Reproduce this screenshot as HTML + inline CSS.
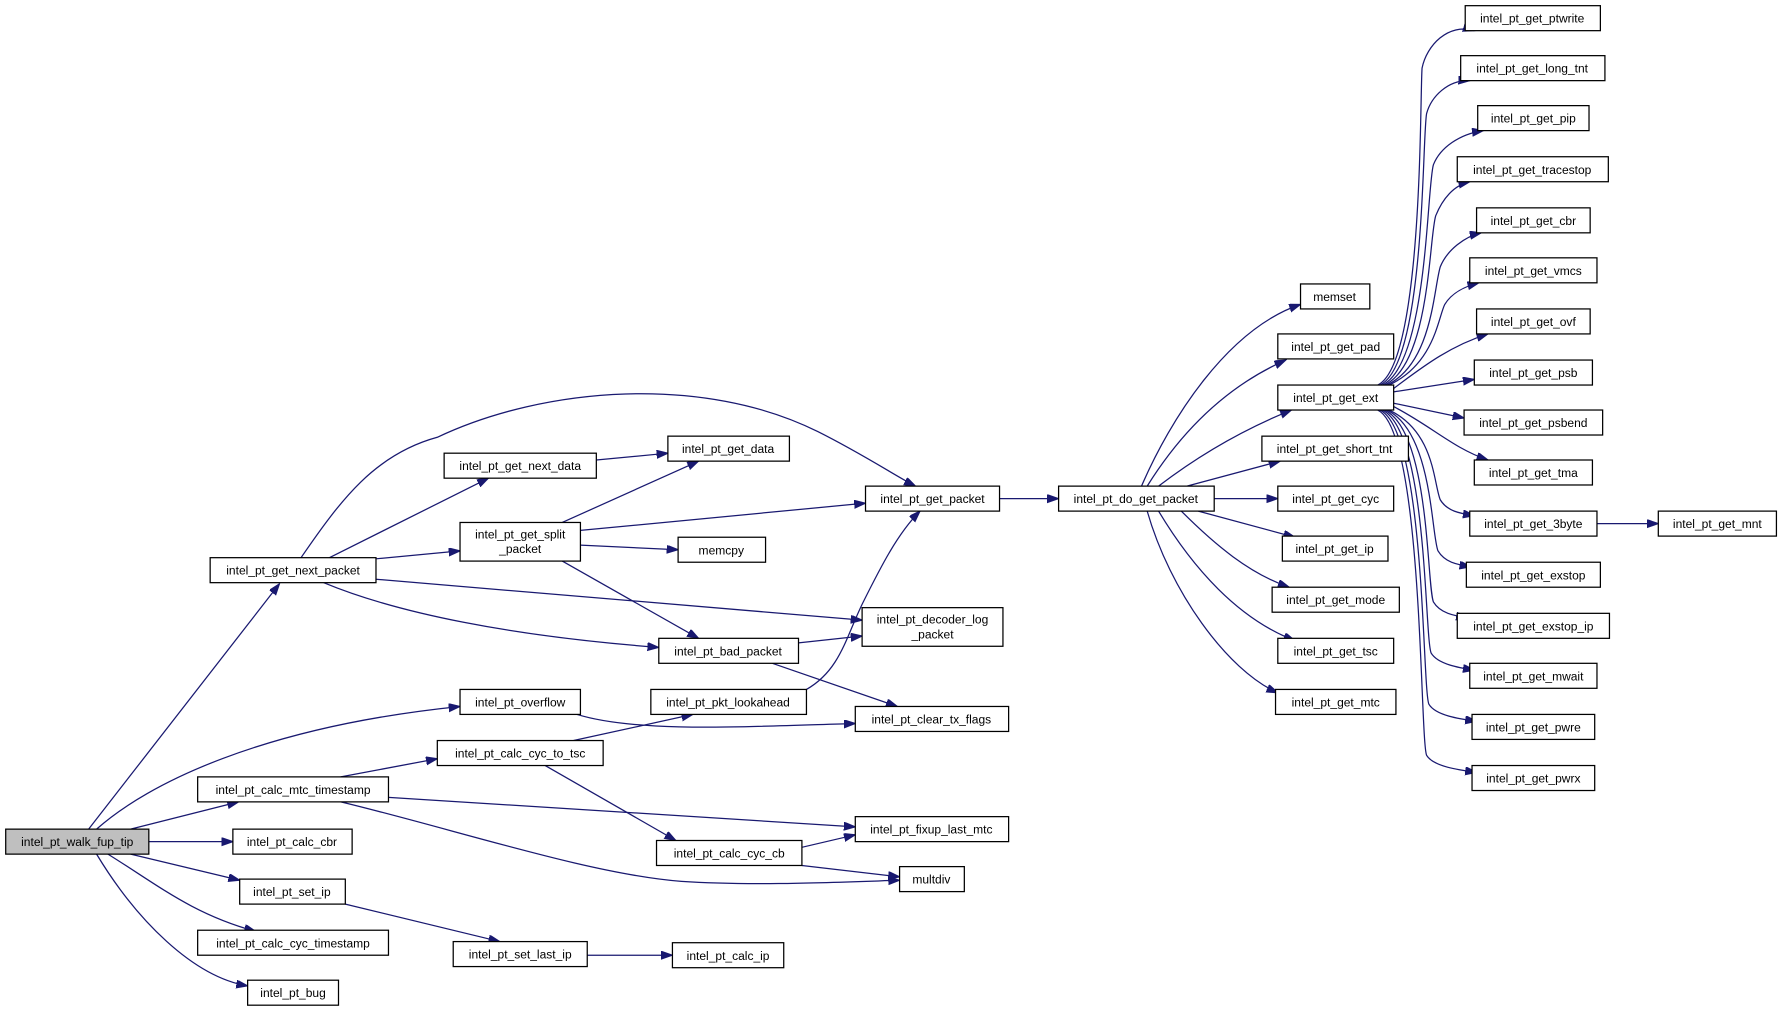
<!DOCTYPE html>
<html><head><meta charset="utf-8"><style>
html,body{margin:0;padding:0;background:#fff;}
svg{display:block;}
text{font-family:"Liberation Sans",sans-serif;font-size:10.6px;fill:#000;text-anchor:middle;}
.b{fill:#fff;stroke:#000;stroke-width:1.1;}
.e{fill:none;stroke:#191970;stroke-width:1.1;marker-end:url(#a);}
</style></head><body>
<svg width="1781" height="1012" viewBox="0 0 1568 891" xmlns="http://www.w3.org/2000/svg">
<defs><marker id="a" markerUnits="userSpaceOnUse" markerWidth="11" markerHeight="8" refX="10" refY="3.5" orient="auto"><path d="M0,0 L10,3.5 L0,7 z" fill="#191970" stroke="#191970"/></marker></defs>
<g>
<path class="e" d="M78,730 L246,514"/>
<path class="e" d="M85,730 C130,690 230,640 405,622"/>
<path class="e" d="M115,730 L210,706"/>
<path class="e" d="M131,741 L205,741"/>
<path class="e" d="M115,752 L211,775"/>
<path class="e" d="M95,752 C140,780 170,805 225,820"/>
<path class="e" d="M85,752 C120,810 170,860 218,868"/>
<path class="e" d="M265,491 C300,440 330,400 385,385 C480,340 620,330 720,380 C760,400 790,420 806,428"/>
<path class="e" d="M290,491 L430,421"/>
<path class="e" d="M331,492 L405,485"/>
<path class="e" d="M331,510 L759,546"/>
<path class="e" d="M285,513 C350,540 450,560 580,570"/>
<path class="e" d="M525,405 L588,399"/>
<path class="e" d="M495,460 L615,406"/>
<path class="e" d="M511,467 L762,443"/>
<path class="e" d="M511,480 L597,484"/>
<path class="e" d="M495,494 L615,562"/>
<path class="e" d="M880,439 L932,439"/>
<path class="e" d="M703,566 L759,560"/>
<path class="e" d="M680,584 L790,622"/>
<path class="e" d="M710,607 C740,590 745,560 760,530 C775,500 790,470 810,450"/>
<path class="e" d="M508,629 C560,645 650,640 753,637"/>
<path class="e" d="M300,684 L385,668"/>
<path class="e" d="M342,702 L753,728"/>
<path class="e" d="M300,706 C400,730 520,770 600,776 C660,780 730,777 792,775"/>
<path class="e" d="M505,652 L610,629"/>
<path class="e" d="M480,674 L595,740"/>
<path class="e" d="M706,746 L753,735"/>
<path class="e" d="M706,762 L792,772"/>
<path class="e" d="M304,796 L440,829"/>
<path class="e" d="M517,841 L592,841"/>
<path class="e" d="M1005,428 C1030,370 1080,290 1145,268"/>
<path class="e" d="M1010,428 C1040,380 1080,340 1132,317"/>
<path class="e" d="M1020,428 C1050,405 1090,380 1137,361"/>
<path class="e" d="M1045,428 L1127,406"/>
<path class="e" d="M1069,439 L1125,439"/>
<path class="e" d="M1055,450 L1140,473"/>
<path class="e" d="M1040,450 C1070,480 1100,505 1135,517"/>
<path class="e" d="M1020,450 C1050,500 1090,545 1140,564"/>
<path class="e" d="M1010,450 C1030,520 1080,590 1125,610"/>
<!-- ext fan-out up -->
<path class="e" d="M1213,339 C1253,320 1250,87 1252,60 C1256,40 1275,20 1298,27"/>
<path class="e" d="M1215,339 C1255,320 1252,120 1256,100 C1260,85 1275,70 1294,71"/>
<path class="e" d="M1217,339 C1257,320 1256,165 1262,145 C1268,130 1285,118 1306,115"/>
<path class="e" d="M1219,339 C1259,320 1258,210 1264,190 C1270,175 1280,163 1294,160"/>
<path class="e" d="M1221,339 C1261,320 1262,255 1268,235 C1274,220 1290,208 1304,205"/>
<path class="e" d="M1223,339 C1263,320 1266,280 1272,268 C1278,258 1290,252 1302,249"/>
<path class="e" d="M1227,342 C1250,325 1275,305 1310,294"/>
<path class="e" d="M1227,345 L1298,334"/>
<path class="e" d="M1227,355 L1289,368"/>
<path class="e" d="M1227,358 C1260,375 1280,395 1310,405"/>
<!-- ext fan-out down -->
<path class="e" d="M1223,361 C1263,380 1262,425 1268,440 C1274,450 1285,452 1298,454"/>
<path class="e" d="M1221,361 C1261,380 1260,470 1266,485 C1272,495 1282,497 1295,499"/>
<path class="e" d="M1219,361 C1259,380 1256,515 1262,530 C1268,540 1280,542 1292,544"/>
<path class="e" d="M1217,361 C1257,380 1254,560 1260,575 C1266,585 1285,588 1298,590"/>
<path class="e" d="M1215,361 C1255,380 1252,605 1258,620 C1264,630 1285,633 1300,635"/>
<path class="e" d="M1213,361 C1253,380 1250,650 1256,665 C1262,675 1285,678 1300,680"/>
<path class="e" d="M1406,461 L1460,461"/>
</g>
<g>
<rect x="5" y="730" width="126" height="22" fill="#bfbfbf" stroke="#000" stroke-width="1.1"/><text x="68" y="745">intel_pt_walk_fup_tip</text>
<rect class="b" x="185" y="491" width="146" height="22"/><text x="258" y="506">intel_pt_get_next_packet</text>
<rect class="b" x="405" y="607" width="106" height="22"/><text x="458" y="622">intel_pt_overflow</text>
<rect class="b" x="174" y="684" width="168" height="22"/><text x="258" y="699">intel_pt_calc_mtc_timestamp</text>
<rect class="b" x="205" y="730" width="105" height="22"/><text x="257" y="745">intel_pt_calc_cbr</text>
<rect class="b" x="211" y="774" width="93" height="22"/><text x="257" y="789">intel_pt_set_ip</text>
<rect class="b" x="174" y="819" width="168" height="22"/><text x="258" y="834">intel_pt_calc_cyc_timestamp</text>
<rect class="b" x="218" y="863" width="80" height="22"/><text x="258" y="878">intel_pt_bug</text>
<rect class="b" x="391" y="399" width="134" height="22"/><text x="458" y="414">intel_pt_get_next_data</text>
<rect class="b" x="405" y="460" width="106" height="34"/><text x="458" y="474">intel_pt_get_split</text><text x="458" y="487">_packet</text>
<rect class="b" x="588" y="384" width="107" height="22"/><text x="641" y="399">intel_pt_get_data</text>
<rect class="b" x="597" y="473" width="77" height="22"/><text x="635" y="488">memcpy</text>
<rect class="b" x="762" y="428" width="118" height="22"/><text x="821" y="443">intel_pt_get_packet</text>
<rect class="b" x="759" y="535" width="124" height="34"/><text x="821" y="549">intel_pt_decoder_log</text><text x="821" y="562">_packet</text>
<rect class="b" x="580" y="562" width="123" height="22"/><text x="641" y="577">intel_pt_bad_packet</text>
<rect class="b" x="573" y="607" width="137" height="22"/><text x="641" y="622">intel_pt_pkt_lookahead</text>
<rect class="b" x="753" y="622" width="135" height="22"/><text x="820" y="637">intel_pt_clear_tx_flags</text>
<rect class="b" x="385" y="652" width="146" height="22"/><text x="458" y="667">intel_pt_calc_cyc_to_tsc</text>
<rect class="b" x="753" y="719" width="135" height="22"/><text x="820" y="734">intel_pt_fixup_last_mtc</text>
<rect class="b" x="578" y="740" width="128" height="22"/><text x="642" y="755">intel_pt_calc_cyc_cb</text>
<rect class="b" x="792" y="763" width="57" height="22"/><text x="820" y="778">multdiv</text>
<rect class="b" x="399" y="829" width="118" height="22"/><text x="458" y="844">intel_pt_set_last_ip</text>
<rect class="b" x="592" y="830" width="98" height="22"/><text x="641" y="845">intel_pt_calc_ip</text>
<rect class="b" x="932" y="428" width="137" height="22"/><text x="1000" y="443">intel_pt_do_get_packet</text>
<rect class="b" x="1145" y="250" width="61" height="22"/><text x="1175" y="265">memset</text>
<rect class="b" x="1125" y="294" width="102" height="22"/><text x="1176" y="309">intel_pt_get_pad</text>
<rect class="b" x="1125" y="339" width="102" height="22"/><text x="1176" y="354">intel_pt_get_ext</text>
<rect class="b" x="1111" y="384" width="129" height="22"/><text x="1175" y="399">intel_pt_get_short_tnt</text>
<rect class="b" x="1125" y="428" width="102" height="22"/><text x="1176" y="443">intel_pt_get_cyc</text>
<rect class="b" x="1129" y="472" width="93" height="22"/><text x="1175" y="487">intel_pt_get_ip</text>
<rect class="b" x="1120" y="517" width="112" height="22"/><text x="1176" y="532">intel_pt_get_mode</text>
<rect class="b" x="1125" y="562" width="102" height="22"/><text x="1176" y="577">intel_pt_get_tsc</text>
<rect class="b" x="1123" y="607" width="106" height="22"/><text x="1176" y="622">intel_pt_get_mtc</text>
<rect class="b" x="1290" y="5" width="119" height="22"/><text x="1349" y="20">intel_pt_get_ptwrite</text>
<rect class="b" x="1286" y="49" width="127" height="22"/><text x="1349" y="64">intel_pt_get_long_tnt</text>
<rect class="b" x="1301" y="93" width="98" height="22"/><text x="1350" y="108">intel_pt_get_pip</text>
<rect class="b" x="1283" y="138" width="133" height="22"/><text x="1349" y="153">intel_pt_get_tracestop</text>
<rect class="b" x="1300" y="183" width="100" height="22"/><text x="1350" y="198">intel_pt_get_cbr</text>
<rect class="b" x="1294" y="227" width="112" height="22"/><text x="1350" y="242">intel_pt_get_vmcs</text>
<rect class="b" x="1300" y="272" width="100" height="22"/><text x="1350" y="287">intel_pt_get_ovf</text>
<rect class="b" x="1298" y="317" width="104" height="22"/><text x="1350" y="332">intel_pt_get_psb</text>
<rect class="b" x="1289" y="361" width="122" height="22"/><text x="1350" y="376">intel_pt_get_psbend</text>
<rect class="b" x="1298" y="405" width="104" height="22"/><text x="1350" y="420">intel_pt_get_tma</text>
<rect class="b" x="1294" y="450" width="112" height="22"/><text x="1350" y="465">intel_pt_get_3byte</text>
<rect class="b" x="1291" y="495" width="118" height="22"/><text x="1350" y="510">intel_pt_get_exstop</text>
<rect class="b" x="1283" y="540" width="134" height="22"/><text x="1350" y="555">intel_pt_get_exstop_ip</text>
<rect class="b" x="1294" y="584" width="112" height="22"/><text x="1350" y="599">intel_pt_get_mwait</text>
<rect class="b" x="1296" y="629" width="108" height="22"/><text x="1350" y="644">intel_pt_get_pwre</text>
<rect class="b" x="1296" y="674" width="108" height="22"/><text x="1350" y="689">intel_pt_get_pwrx</text>
<rect class="b" x="1460" y="450" width="104" height="22"/><text x="1512" y="465">intel_pt_get_mnt</text>
</g>
</svg>
</body></html>
